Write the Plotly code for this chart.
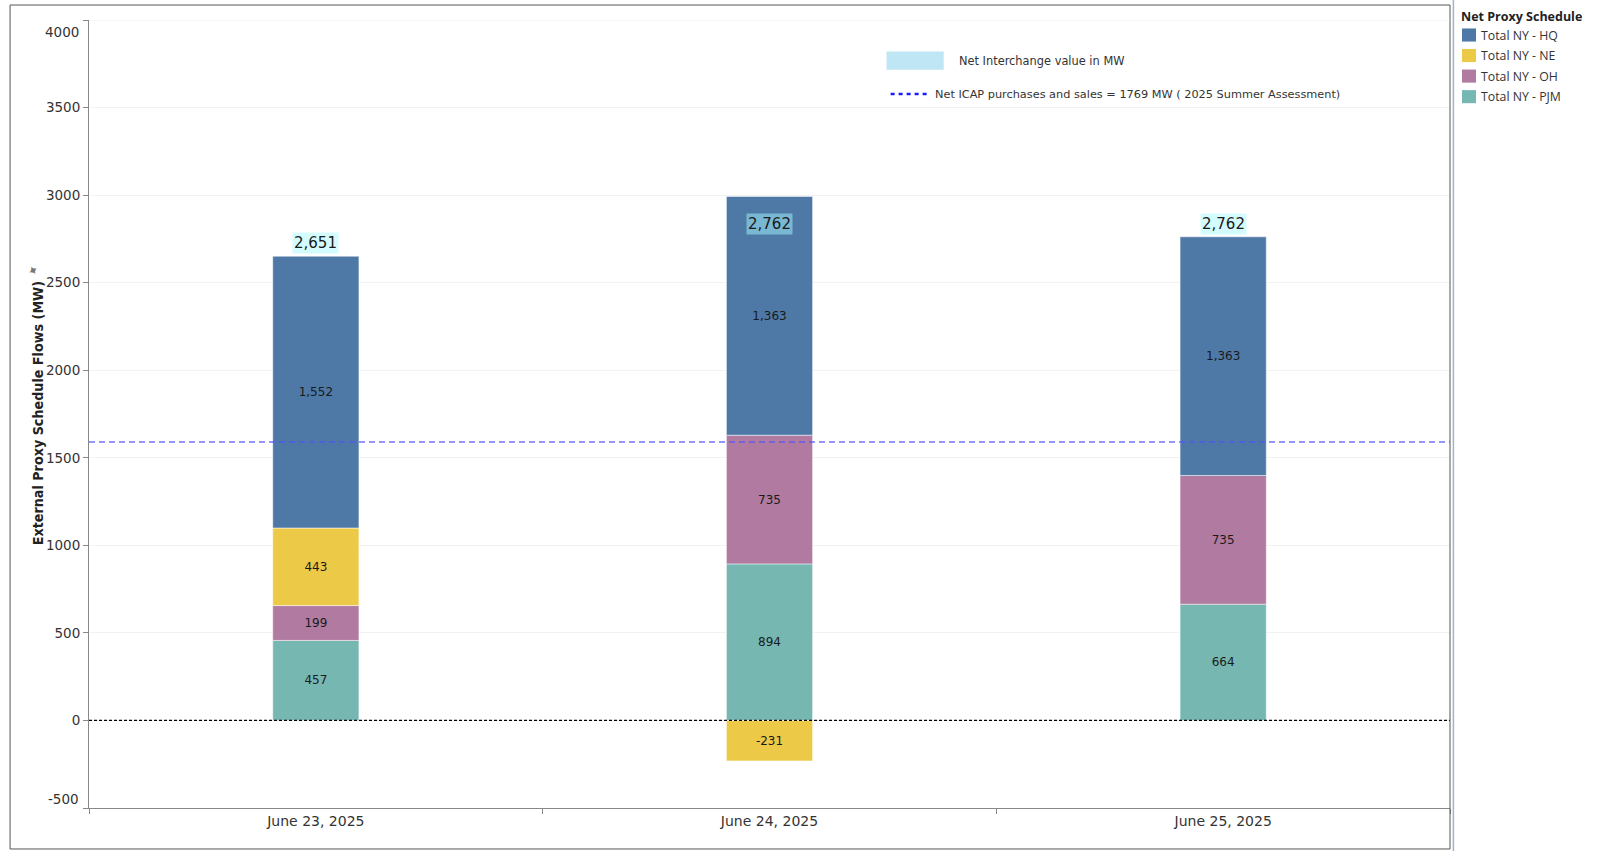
import plotly.graph_objects as go

# categories and values
dates = ["June 23, 2025", "June 24, 2025", "June 25, 2025"]
hq = [1552, 1363, 1363]
ne = [443, -231, None]
oh = [199, 735, 735]
pjm = [457, 894, 664]
net_interchange = [2651, 2762, 2762]
icap_level = 1590  # where the dashed ICAP line sits in the picture
y_ticks = [-500, 0, 500, 1000, 1500, 2000, 2500, 3000, 3500, 4000]
y_range = [-500, 4000]

series = [
    ("Total NY - PJM", pjm, "#76b7b2"),
    ("Total NY - OH", oh, "#b07aa1"),
    ("Total NY - NE", ne, "#edc948"),
    ("Total NY - HQ", hq, "#4e79a7"),
]

FONT = "DejaVu Sans"
LEG_FONT = "Open Sans"

fig = go.Figure()

# stacked bars, bottom to top: PJM, OH, NE, HQ
for name, vals, color in series:
    fig.add_trace(
        go.Bar(
            x=dates,
            y=vals,
            name=name,
            showlegend=False,
            marker=dict(color=color, line=dict(color="white", width=0.5)),
            text=["" if v is None else f"{v:,}" for v in vals],
            textposition="inside",
            insidetextanchor="middle",
            textfont=dict(family=FONT, size=12, color="#1a1a1a"),
            width=0.19,
        )
    )

# net interchange labels above each stack
for d, v in zip(dates, net_interchange):
    fig.add_annotation(
        x=d, y=v, text=f"{v:,}", showarrow=False, yanchor="bottom", yshift=2,
        bgcolor="rgba(167,249,255,0.49)", borderpad=1,
        font=dict(family=FONT, size=15, color="#1a1a1a"),
    )

shapes = [
    # zero line
    dict(type="line", xref="paper", yref="y", x0=0, x1=1, y0=0, y1=0,
         line=dict(color="black", width=1.2, dash="3px,2px")),
    # ICAP line
    dict(type="line", xref="paper", yref="y", x0=0, x1=1, y0=icap_level, y1=icap_level,
         line=dict(color="rgba(80,80,255,0.8)", width=1.5, dash="6px,4px")),
    # in-plot legend swatch
    dict(type="rect", xref="paper", yref="paper", x0=0.586, x1=0.628, y0=0.937, y1=0.960,
         fillcolor="#bfe6f5", line=dict(width=0)),
    dict(type="line", xref="paper", yref="paper", x0=0.589, x1=0.618, y0=0.906, y1=0.906,
         line=dict(color="#1a1aff", width=2.5, dash="4px,4px")),
    # outer frame
    dict(type="rect", xref="paper", yref="paper", x0=-0.058, x1=1.0, y0=-0.052, y1=1.019,
         line=dict(color="#555", width=1)),
    # legend separator
    dict(type="line", xref="paper", yref="paper", x0=1.0025, x1=1.0025, y0=-0.06, y1=1.03,
         line=dict(color="#9fb4d0", width=1.5)),
    # top gridline at the axis end
    dict(type="line", xref="paper", yref="y", x0=0, x1=1, y0=y_range[1], y1=y_range[1],
         line=dict(color="#f2f2f2", width=1)),
]

# colour legend on the right (HQ on top, like Tableau)
fig.add_annotation(
    xref="paper", yref="paper", x=1.0066, y=1.0044, xanchor="left", yanchor="middle",
    text="<b>Net Proxy Schedule</b>", showarrow=False,
    font=dict(family=LEG_FONT, size=12.5, color="#222"),
)
for i, (name, vals, color) in enumerate(reversed(series)):
    yc = 0.98096 - i * 0.02608
    shapes.append(
        dict(type="rect", xref="paper", yref="paper", x0=1.0088, x1=1.0191,
             y0=yc - 0.0083, y1=yc + 0.0083, fillcolor=color, line=dict(width=0))
    )
    fig.add_annotation(
        xref="paper", yref="paper", x=1.0215, y=yc, xanchor="left", yanchor="middle",
        text=name, showarrow=False, font=dict(family=LEG_FONT, size=12.3, color="#333"),
    )

fig.add_annotation(
    xref="paper", yref="paper", x=0.638, y=0.9485, text="Net Interchange value in MW",
    showarrow=False, xanchor="left", yanchor="middle",
    font=dict(family=FONT, size=11.4, color="#333"),
)
fig.add_annotation(
    xref="paper", yref="paper", x=0.620, y=0.906,
    text="Net ICAP purchases and sales = 1769 MW ( 2025 Summer Assessment)",
    showarrow=False, xanchor="left", yanchor="middle",
    font=dict(family=FONT, size=11.3, color="#333"),
)
fig.add_annotation(
    xref="paper", yref="paper", x=-0.045, y=0.5006, textangle=-90,
    text="<b>External Proxy Schedule Flows (MW)</b>", showarrow=False,
    font=dict(family="DejaVu Sans Condensed", size=14.2, color="#222"),
)
fig.add_annotation(
    xref="paper", yref="paper", x=-0.049, y=0.697, textangle=-30,
    text="✦", showarrow=False, font=dict(family=FONT, size=13, color="#777"),
)

# end labels pulled inside the axis, the way Tableau draws them
for t, shift in ((y_range[1], -12), (y_range[0], 9)):
    fig.add_annotation(
        xref="paper", yref="y", x=0, y=t, xanchor="right", yanchor="middle",
        xshift=-8, yshift=shift, text=str(t), showarrow=False,
        font=dict(family=FONT, size=13.5, color="#333"),
    )

inner = [t for t in y_ticks if y_range[0] < t < y_range[1]]

fig.update_layout(
    barmode="relative",
    width=1612,
    height=851,
    margin=dict(l=89, r=162, t=20, b=43, autoexpand=False),
    plot_bgcolor="white",
    paper_bgcolor="white",
    shapes=shapes,
    font=dict(family=FONT, color="#333"),
    showlegend=False,
    xaxis=dict(
        tickson="boundaries", ticks="outside", ticklen=5, tickcolor="#888",
        showline=True, linecolor="#888", showgrid=False,
        tickfont=dict(family=FONT, size=14, color="#333"),
        range=[-0.5, 2.5],
    ),
    yaxis=dict(
        range=y_range, tickvals=y_ticks,
        ticktext=[str(t) if t in inner else "" for t in y_ticks],
        ticks="outside", ticklen=5, tickcolor="#888",
        showline=True, linecolor="#888", gridcolor="#f2f2f2", zeroline=False,
        tickfont=dict(family=FONT, size=13.5, color="#333"),
    ),
)

fig.write_html(
    "out.html",
    config={"displayModeBar": False},
    post_script="document.body.style.margin='0';",
)
